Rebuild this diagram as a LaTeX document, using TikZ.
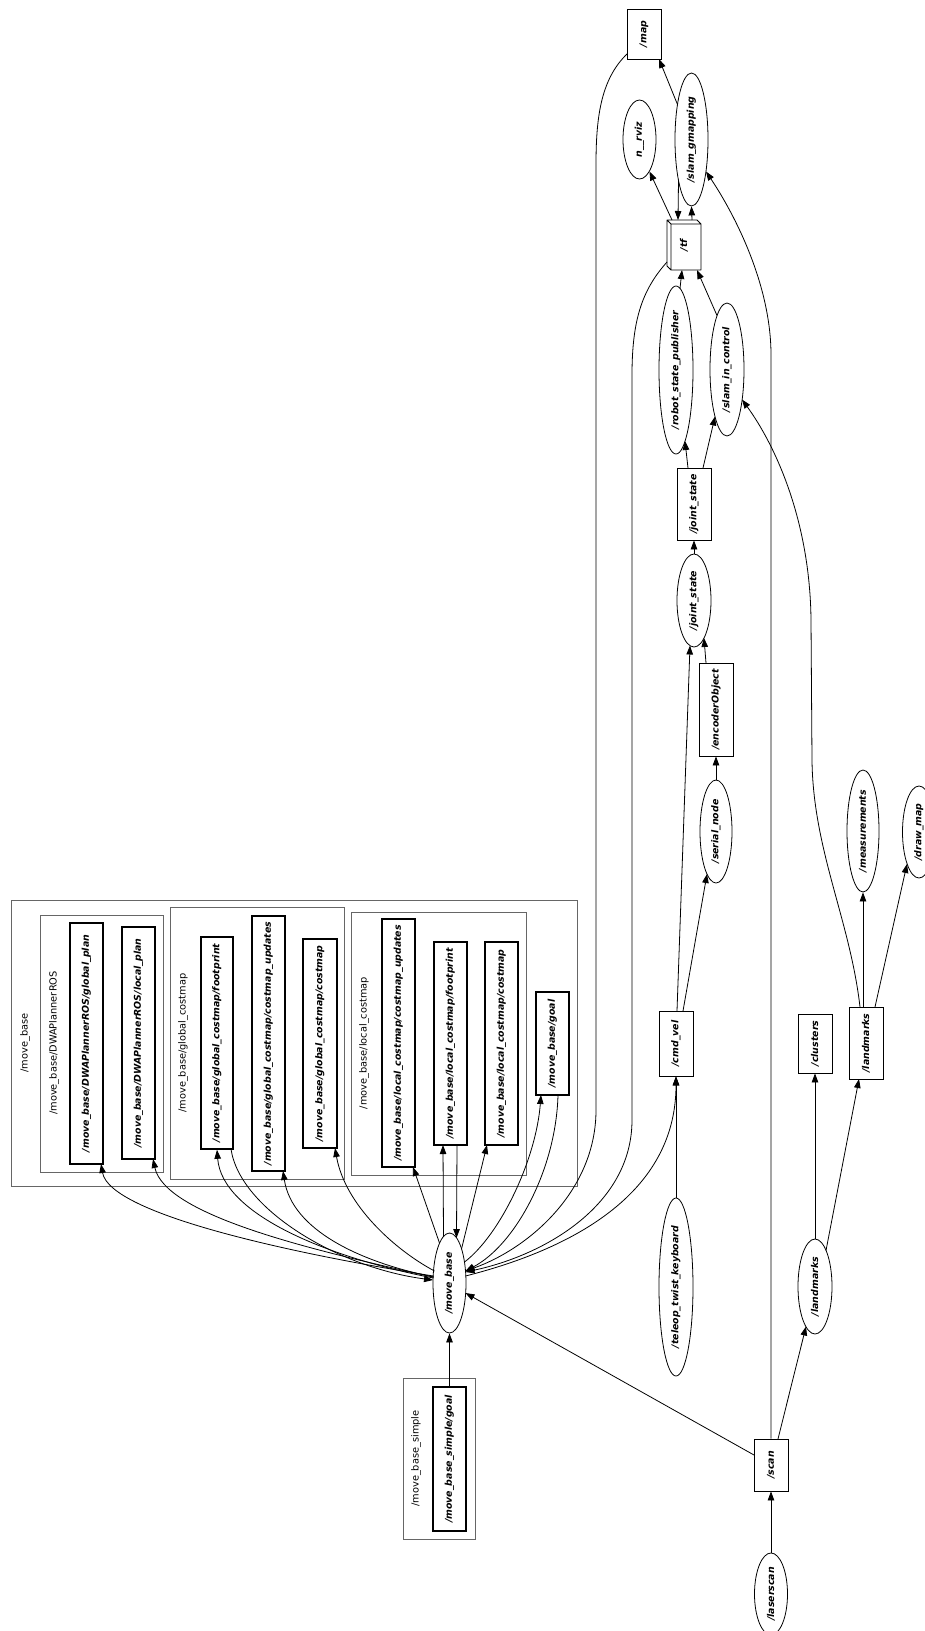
\documentclass[tikz,border=0pt]{standalone}
\usepackage{fontspec}
\setmainfont{DejaVu Sans}
\usetikzlibrary{shapes.geometric,arrows.meta,calc}
\newcommand{\zl}[1]{\makebox[0pt]{#1}}
\begin{document}
\begin{tikzpicture}[x=1pt,y=-1pt,
  sz/.style 2 args={minimum width=#2pt, minimum height=#1pt},
  topicbox/.style={draw, rectangle, rotate=90, inner sep=0pt, line width=0.8pt,
    font=\fontsize{9.4}{11}\selectfont\bfseries\itshape},
  nsbox/.style={topicbox, line width=1.6pt},
  proc/.style={draw, ellipse, rotate=90, inner sep=0pt, line width=0.8pt,
    font=\fontsize{9.4}{11}\selectfont\bfseries\itshape},
  cluster/.style={draw=black!60, line width=1pt},
  clabel/.style={rotate=90, inner sep=0pt, font=\fontsize{9.8}{12}\selectfont},
  conn/.style={line width=0.8pt, -{Triangle[length=9pt,width=6.5pt]}},
]
\fill[white] (0,0) rectangle (925,1631);
\useasboundingbox (0,0) rectangle (925,1631);

% ---------- namespace clusters ----------
\draw[cluster] (11,900) rectangle (577,1186);
\node[clabel] (lmb) at (25,1043) {/move\_base};
\draw[cluster] (40,915) rectangle (163,1172);
\node[clabel] (ldwa) at (54,1043) {/move\_base/DWAPlannerROS};
\draw[cluster] (170,907) rectangle (344,1179);
\node[clabel] (lgc) at (183,1043) {/move\_base/global\_costmap};
\draw[cluster] (351,912) rectangle (526,1175);
\node[clabel] (llc) at (364,1043) {/move\_base/local\_costmap};
\draw[cluster] (403,1378) rectangle (475,1539);
\node[clabel] (lmbs) at (416,1458.5) {/move\_base\_simple};

% ---------- topics inside namespaces ----------
\node[nsbox, sz={33}{241}] (gplan) at (86.5,1043.5) {\zl{/move\_base/DWAPlannerROS/global\_plan}};
\node[nsbox, sz={33}{232}] (lplan) at (138.5,1043) {\zl{/move\_base/DWAPlannerROS/local\_plan}};
\node[nsbox, sz={32}{212}] (gfoot) at (217,1043) {\zl{/move\_base/global\_costmap/footprint}};
\node[nsbox, sz={33}{255}] (gupd) at (268.5,1043.5) {\zl{/move\_base/global\_costmap/costmap\_updates}};
\node[nsbox, sz={34}{209}] (gcost) at (320,1043.5) {\zl{/move\_base/global\_costmap/costmap}};
\node[nsbox, sz={33}{248}] (lupd) at (398.5,1043) {\zl{/move\_base/local\_costmap/costmap\_updates}};
\node[nsbox, sz={33}{203}] (lfoot) at (450.5,1043.5) {\zl{/move\_base/local\_costmap/footprint}};
\node[nsbox, sz={33}{203}] (lcost) at (501.5,1043.5) {\zl{/move\_base/local\_costmap/costmap}};
\node[nsbox, sz={33}{103}] (goal) at (552.5,1043.5) {\zl{/move\_base/goal}};
\node[nsbox, sz={33}{144}] (msgoal) at (449.5,1459) {\zl{/move\_base\_simple/goal}};

% ---------- other topics ----------
\node[topicbox, sz={34}{50}] (map) at (644,34) {\zl{/map}};
\node[topicbox, draw=none, sz={34}{50}] (tf) at (684,245) {\zl{/tf}};
\draw[line width=0.8pt, line join=round]
  ($(tf)+(-17,-25)$) -- ($(tf)+(13,-25)$) -- ($(tf)+(17,-21)$) -- ($(tf)+(17,25)$)
  -- ($(tf)+(-13,25)$) -- ($(tf)+(-17,21)$) -- cycle
  ($(tf)+(-13,25)$) -- ($(tf)+(-13,-21)$) -- ($(tf)+(17,-21)$)
  ($(tf)+(-13,-21)$) -- ($(tf)+(-17,-25)$);
\node[topicbox, sz={34}{72}] (jstopic) at (694,504) {\zl{/joint\_state}};
\node[topicbox, sz={34}{93}] (encoder) at (716,709.5) {\zl{/encoderObject}};
\node[topicbox, sz={34}{65}] (cmdvel) at (676,1043.5) {\zl{/cmd\_vel}};
\node[topicbox, sz={34}{59}] (clusters) at (815,1043.5) {\zl{/clusters}};
\node[topicbox, sz={34}{72}] (lmtopic) at (866,1043) {\zl{/landmarks}};
\node[topicbox, sz={34}{52}] (scan) at (771,1465) {\zl{/scan}};

% ---------- nodes ----------
\node[proc, sz={33}{79}] (rviz) at (639.5,139.5) {\zl{n\_\_rviz}};
\node[proc, sz={33}{133}] (slamg) at (691.5,139.5) {\zl{/slam\_gmapping}};
\node[proc, sz={34}{168}] (rsp) at (676,370) {\zl{/robot\_state\_publisher}};
\node[proc, sz={34}{133}] (sic) at (727,369.5) {\zl{/slam\_in\_control}};
\node[proc, sz={34}{93}] (jsnode) at (694,600.5) {\zl{/joint\_state}};
\node[proc, sz={32}{103}] (serial) at (716,831.5) {\zl{/serial\_node}};
\node[proc, sz={32}{122}] (meas) at (863,831) {\zl{/measurements}};
\node[proc, sz={33}{92}] (drawmap) at (919,832) {\zl{/draw\_map}};
\node[proc, sz={34}{178}] (teleop) at (676,1287) {\zl{/teleop\_twist\_keyboard}};
\node[proc, sz={34}{95}] (lmnode) at (815,1286.5) {\zl{/landmarks}};
\node[proc, sz={33}{82}] (laser) at (771,1594) {\zl{/laserscan}};
\node[proc, sz={33}{100}] (mb) at (449.5,1283) {\zl{/move\_base}};

% ---------- move_base publications and subscriptions ----------
\draw[conn] ($(mb)+(-16,-7)$) .. controls (300,1255) and (110,1215) .. ($(gplan)+(14.5,120.5)$);
\draw[conn] ($(mb)+(-16,-6)$) .. controls (310,1250) and (165,1215) .. ($(lplan)+(14.5,116)$);
\draw[conn] ($(mb)+(-16,-5)$) .. controls (330,1258) and (222,1215) .. (gfoot.west);
\draw[conn] ($(gfoot)+(14,106)$) .. controls (240,1210) and (340,1268) .. ($(mb)+(-16.5,-3)$);
\draw[conn] ($(mb)+(-16,-6)$) .. controls (360,1262) and (292,1230) .. ($(gupd)+(14.5,127.5)$);
\draw[conn] ($(mb)+(-15,-12)$) .. controls (395,1250) and (345,1205) .. ($(gcost)+(15,104.5)$);
\draw[conn] ($(mb)+(-10,-40)$) -- ($(lupd)+(14.5,124)$);
\draw[conn] ($(mb)+(-6,-47)$) -- ($(lfoot)+(-7.5,101.5)$);
\draw[conn] ($(lfoot)+(6.5,101.5)$) -- ($(mb)+(7,-45)$);
\draw[conn] ($(mb)+(12,-34)$) -- ($(lcost)+(-14.5,101.5)$);
\draw[conn] ($(mb)+(15,-21)$) .. controls (500,1235) and (536,1160) .. ($(goal)+(-11.5,51.5)$);
\draw[conn] ($(goal)+(5.5,51.5)$) .. controls (556,1170) and (515,1245) .. ($(mb)+(16,-12)$);
\draw[conn] ($(map)+(-17,20)$) .. controls (600,80) and (596,120) .. (596,165) -- (596,1110)
  .. controls (596,1190) and (530,1248) .. ($(mb)+(16,-12)$);
\draw[conn] ($(tf)+(-17,17)$) .. controls (642,290) and (632,320) .. (632,375) -- (632,1120)
  .. controls (632,1205) and (545,1255) .. ($(mb)+(16,-11)$);
\draw[conn] ($(mb)+(16,-7)$) .. controls (560,1252) and (676,1200) .. (cmdvel.west);
\draw[conn] ($(scan)+(-17,-10)$) -- ($(mb)+(16,10)$);
\draw[conn] (msgoal) -- (mb);

% ---------- laser pipeline ----------
\draw[conn] (laser) -- (scan);
\draw[conn] (scan.east) -- (771,355) .. controls (771,285) and (735,215) .. ($(slamg)+(14.5,32)$);
\draw[conn] ($(scan)+(7,-26)$) -- ($(lmnode)+(-9,40)$);
\draw[conn] (lmnode) -- (clusters);
\draw[conn] ($(lmnode)+(11,-36)$) -- ($(lmtopic)+(-7,36)$);
\draw[conn] ($(lmtopic)+(-3,-36)$) -- (meas.west);
\draw[conn] ($(lmtopic)+(9,-36)$) -- ($(drawmap)+(-12,32)$);
\draw[conn] ($(lmtopic)+(-6,-36)$) .. controls (850,920) and (813,850) .. (812,760) -- (811,620)
  .. controls (810,520) and (775,445) .. ($(sic)+(15,30)$);

% ---------- drive and state pipeline ----------
\draw[conn] (teleop) -- (cmdvel);
\draw[conn] ($(cmdvel)+(1,-32.5)$) -- ($(jsnode)+(-4,45)$);
\draw[conn] ($(cmdvel)+(7,-32.5)$) -- ($(serial)+(-9,42.5)$);
\draw[conn] (serial) -- (encoder);
\draw[conn] ($(encoder)+(-10,-46.5)$) -- ($(jsnode)+(10,37.5)$);
\draw[conn] (jsnode) -- (jstopic);
\draw[conn] ($(jstopic)+(-6,-36)$) -- ($(rsp)+(9,71)$);
\draw[conn] ($(jstopic)+(9,-36)$) -- ($(sic)+(-12,47)$);
\draw[conn] ($(rsp)+(4,-81.5)$) -- ($(tf)+(-2,25)$);
\draw[conn] ($(sic)+(-10,-54)$) -- ($(tf)+(13,25)$);
\draw[conn] ($(tf)+(-12,-25)$) -- ($(rviz)+(10,32)$);
\draw[conn] ($(slamg)+(-13,41)$) -- ($(tf)+(-6,-25)$);
\draw[conn] ($(tf)+(8,-25)$) -- (slamg.west);
\draw[conn] ($(slamg)+(-14,-35)$) -- ($(map)+(15,25)$);
\end{tikzpicture}
\end{document}
